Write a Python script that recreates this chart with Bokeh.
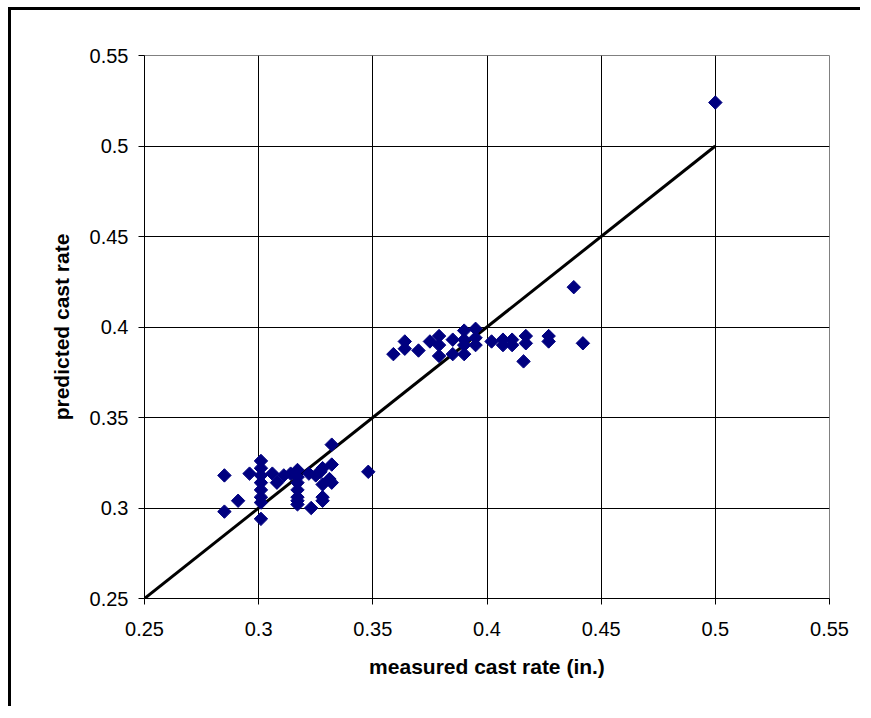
import math
from bokeh.plotting import figure
from bokeh.models import FixedTicker
from bokeh.embed import file_html
from bokeh.resources import INLINE

# measured vs predicted cast rate (in.)
measured = [
    0.285, 0.285, 0.291, 0.296, 0.301, 0.301, 0.301, 0.301, 0.301, 0.301, 0.301, 0.301,
    0.306, 0.308, 0.311, 0.314, 0.317, 0.317, 0.317, 0.317, 0.317, 0.317, 0.317,
    0.322, 0.323, 0.325, 0.327, 0.328, 0.328, 0.328, 0.328, 0.331, 0.332, 0.332, 0.332,
    0.348,
    0.359, 0.364, 0.364, 0.370, 0.375, 0.379, 0.379, 0.379, 0.385, 0.385,
    0.390, 0.390, 0.390, 0.390, 0.395, 0.395, 0.395, 0.402, 0.407, 0.407,
    0.411, 0.411, 0.417, 0.417, 0.416, 0.427, 0.427, 0.442, 0.438, 0.500,
]
predicted = [
    0.318, 0.298, 0.304, 0.319, 0.326, 0.322, 0.318, 0.314, 0.310, 0.306, 0.303, 0.294,
    0.319, 0.314, 0.318, 0.319, 0.321, 0.317, 0.314, 0.310, 0.306, 0.304, 0.302,
    0.319, 0.300, 0.318, 0.320, 0.322, 0.313, 0.306, 0.304, 0.316, 0.324, 0.335, 0.314,
    0.320,
    0.385, 0.392, 0.388, 0.387, 0.392, 0.395, 0.390, 0.384, 0.393, 0.385,
    0.398, 0.393, 0.390, 0.385, 0.399, 0.394, 0.390, 0.392, 0.393, 0.390,
    0.393, 0.390, 0.395, 0.391, 0.381, 0.395, 0.392, 0.391, 0.422, 0.524,
]
# reference line y = x
line_x = [0.25, 0.5]
line_y = [0.25, 0.5]

tick_values = [0.25, 0.3, 0.35, 0.4, 0.45, 0.5, 0.55]
tick_labels = ["0.25", "0.3", "0.35", "0.4", "0.45", "0.5", "0.55"]

FONT = "Liberation Sans"

p = figure(
    width=852, height=699,
    x_range=(0.25, 0.55), y_range=(0.25, 0.55),
    output_backend="svg", toolbar_location=None,
    min_border_left=133, min_border_top=45, min_border_right=34, min_border_bottom=111,
)
p.styles = {
    "margin-left": "8px", "margin-top": "7px",
    "border-left": "3px solid black", "border-top": "3px solid black",
}
p.background_fill_color = "white"
p.border_fill_color = "white"
p.outline_line_color = "#808080"
p.outline_line_width = 1

for ax in (p.xaxis[0], p.yaxis[0]):
    ax.ticker = FixedTicker(ticks=tick_values)
    ax.major_label_overrides = {v: s for v, s in zip(tick_values, tick_labels)}
    ax.major_label_text_font = FONT
    ax.major_label_text_font_size = "20px"
    ax.major_label_text_color = "black"
    ax.axis_label_text_font = FONT
    ax.axis_label_text_font_size = "21px"
    ax.axis_label_text_font_style = "bold"
    ax.axis_label_text_color = "black"
    ax.axis_line_color = "black"
    ax.axis_line_width = 1
    ax.major_tick_in = 0
    ax.major_tick_out = 6
    ax.major_tick_line_color = "black"
    ax.minor_tick_line_color = None

p.xaxis.axis_label = "measured cast rate (in.)"
p.yaxis.axis_label = "predicted cast rate"
p.xaxis.major_label_standoff = 17
p.yaxis.major_label_standoff = 10
p.xaxis.axis_label_standoff = 16
p.yaxis.axis_label_standoff = 14

for g in (p.xgrid[0], p.ygrid[0]):
    g.ticker = FixedTicker(ticks=tick_values)
    g.grid_line_color = "black"
    g.grid_line_width = 1

p.line(line_x, line_y, line_color="black", line_width=3)
p.scatter(measured, predicted, marker="square", angle=math.pi / 4, size=9.5,
          fill_color="#000080", line_color="#000080")

open("out.html", "w").write(file_html(p, INLINE))
